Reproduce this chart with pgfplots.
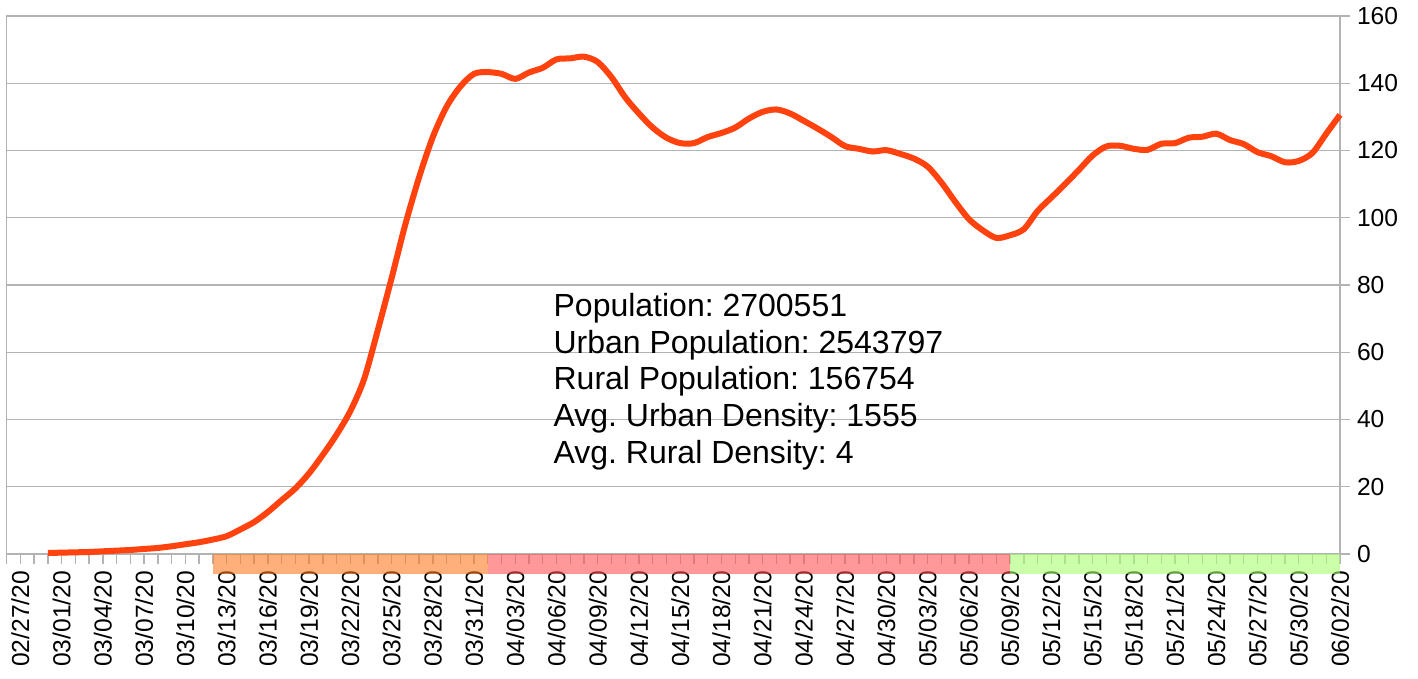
\documentclass[border=0pt]{standalone}
\usepackage{pgfplots}
\pgfplotsset{compat=1.18}
\usepackage{fontspec}
\setmainfont{Liberation Sans}
\frenchspacing
\definecolor{lineclr}{HTML}{FF420E}
\definecolor{axgray}{HTML}{B3B3B3}
\definecolor{bandorange}{RGB}{255,123,33}
\definecolor{bandred}{RGB}{255,85,85}
\definecolor{bandgreen}{RGB}{170,255,113}
\begin{document}
\begin{tikzpicture}
\useasboundingbox (-3.35pt,-62.5pt) rectangle (705.65pt,277pt);
\begin{axis}[
  at={(0,0)}, anchor=south west,
  scale only axis, width=666.65pt, height=269pt,
  xmin=0, xmax=97, ymin=0, ymax=160,
  clip=false,
  axis line style={axgray, line width=0.7pt},
  ytick={0,20,...,160},
  ytick pos=right, yticklabel pos=right,
  ymajorgrids, grid style={axgray, line width=0.7pt},
  xtick={1,4,...,97}, minor xtick={0,...,97},
  xtick pos=left,
  tick align=outside,
  major tick length=5pt, minor tick length=5pt,
  every tick/.style={axgray, line width=0.7pt},
  minor tick style={axgray, line width=0.7pt},
  xticklabels={02/27/20,03/01/20,03/04/20,03/07/20,03/10/20,03/13/20,03/16/20,03/19/20,03/22/20,03/25/20,03/28/20,03/31/20,04/03/20,04/06/20,04/09/20,04/12/20,04/15/20,04/18/20,04/21/20,04/24/20,04/27/20,04/30/20,05/03/20,05/06/20,05/09/20,05/12/20,05/15/20,05/18/20,05/21/20,05/24/20,05/27/20,05/30/20,06/02/20},
  xticklabel style={rotate=90, anchor=east, font=\fontsize{12.3}{14}\selectfont, text=black},
  yticklabel style={font=\fontsize{12.3}{14}\selectfont, text=black},
  /pgf/number format/assume math mode=true,
]
\addplot[draw=none, fill=bandorange, fill opacity=0.6] coordinates {(15,0) (35,0) (35,-5.9) (15,-5.9)} -- cycle;
\addplot[draw=none, fill=bandred, fill opacity=0.6] coordinates {(35,0) (73,0) (73,-5.9) (35,-5.9)} -- cycle;
\addplot[draw=none, fill=bandgreen, fill opacity=0.6] coordinates {(73,0) (97,0) (97,-5.9) (73,-5.9)} -- cycle;
\addplot[lineclr, line width=3pt, smooth, tension=0.5] coordinates {
(3,0.3) (4,0.4) (5,0.5) (6,0.6) (7,0.8) (8,1.0) (9,1.2) (10,1.5) (11,1.8) (12,2.3)
(13,2.9) (14,3.5) (15,4.3) (16,5.3) (17,7.3) (18,9.5) (19,12.5) (20,16) (21,19.5) (22,24)
(23,29.5) (24,35.5) (25,42.5) (26,52) (27,66.6) (28,82) (29,98) (30,112) (31,124) (32,133)
(33,139) (34,142.8) (35,143.3) (36,142.8) (37,141.3) (38,143.2) (39,144.6) (40,147.1) (41,147.4) (42,147.9)
(43,146.3) (44,141.8) (45,135.8) (46,131) (47,126.8) (48,123.8) (49,122.2) (50,122.2) (51,124) (52,125.2)
(53,126.8) (54,129.5) (55,131.5) (56,132.2) (57,131) (58,128.8) (59,126.5) (60,124) (61,121.3) (62,120.5)
(63,119.7) (64,120.1) (65,119) (66,117.6) (67,115.2) (68,110.5) (69,104.8) (70,99.6) (71,96.3) (72,94)
(73,94.8) (74,96.6) (75,102) (76,106) (77,110) (78,114.2) (79,118.5) (80,121.2) (81,121.4) (82,120.5)
(83,120.2) (84,122) (85,122.2) (86,123.8) (87,124.1) (88,125) (89,123.1) (90,121.9) (91,119.5) (92,118.3)
(93,116.5) (94,116.9) (95,119.3) (96,125) (97,130.6)
};
\node[anchor=north west, align=left, inner sep=0pt, font=\fontsize{16}{18.3}\selectfont] at (axis cs:39.76,77.6)
{Population: 2700551\\Urban Population: 2543797\\Rural Population: 156754\\Avg. Urban Density: 1555\\Avg. Rural Density: 4};
\end{axis}
\end{tikzpicture}
\end{document}
